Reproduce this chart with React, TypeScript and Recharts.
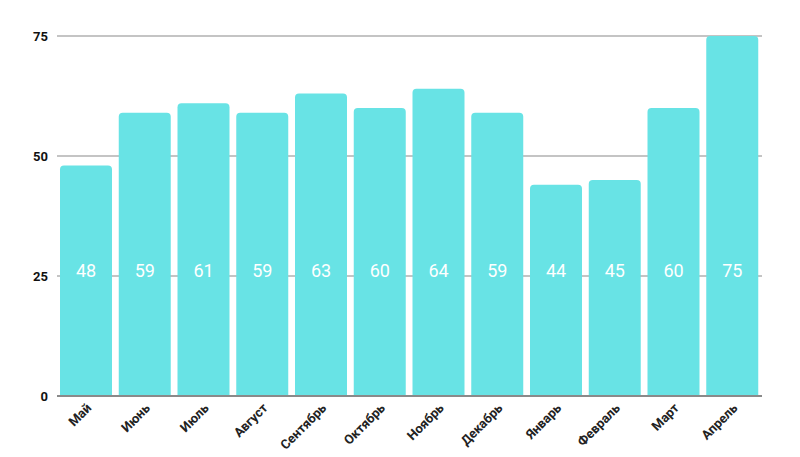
import { BarChart, Bar, XAxis, YAxis, CartesianGrid, LabelList } from "recharts";

const months = [
  "Май", "Июнь", "Июль", "Август", "Сентябрь", "Октябрь",
  "Ноябрь", "Декабрь", "Январь", "Февраль", "Март", "Апрель",
];
const values = [48, 59, 61, 59, 63, 60, 64, 59, 44, 45, 60, 75];
const yTicks = [0, 25, 50, 75];

const data = months.map((m, i) => ({ month: m, value: values[i] }));

const FONT = "Roboto, 'Liberation Sans', Arial, sans-serif";

function InsideLabel(props: any) {
  const { x, y, width, height, value } = props;
  // labels sit at the same height near the bottom of every bar
  return (
    <text
      x={x + width / 2}
      y={y + height - 126}
      fill="#ffffff"
      fontSize={18}
      fontFamily={FONT}
      textAnchor="middle"
      dominantBaseline="central"
    >
      {value}
    </text>
  );
}

function MonthTick(props: any) {
  const { x, y, payload } = props;
  return (
    <g transform={`translate(${x + 3},${y + 2})`}>
      <text
        transform="rotate(-45)"
        textAnchor="end"
        fontSize={13}
        fontWeight="bold"
        fontFamily={FONT}
        fill="#222"
        dy={4}
      >
        {payload.value}
      </text>
    </g>
  );
}

export default function App() {
  return (
    <div style={{ position: "absolute", left: 0, top: 0, width: 800, height: 457, background: "#fff" }}>
      <BarChart
        width={800}
        height={457}
        data={data}
        margin={{ top: 36, right: 38, bottom: 0, left: 0 }}
        barSize={52}
      >
        <CartesianGrid vertical={false} stroke="#c4c4c4" strokeWidth={2} />
        <XAxis
          dataKey="month"
          height={61}
          interval={0}
          tickLine={false}
          axisLine={{ stroke: "#8a8a8a", strokeWidth: 2 }}
          tick={<MonthTick />}
        />
        <YAxis
          width={57}
          domain={[0, 75]}
          ticks={yTicks}
          axisLine={false}
          tickLine={false}
          tickSize={0}
          tickMargin={9}
          tick={{ fontSize: 13, fontWeight: "bold", fill: "#111", fontFamily: FONT }}
        />
        <Bar dataKey="value" fill="#68e3e5" radius={[4, 4, 0, 0]} isAnimationActive={false}>
          <LabelList dataKey="value" content={<InsideLabel />} />
        </Bar>
      </BarChart>
    </div>
  );
}
